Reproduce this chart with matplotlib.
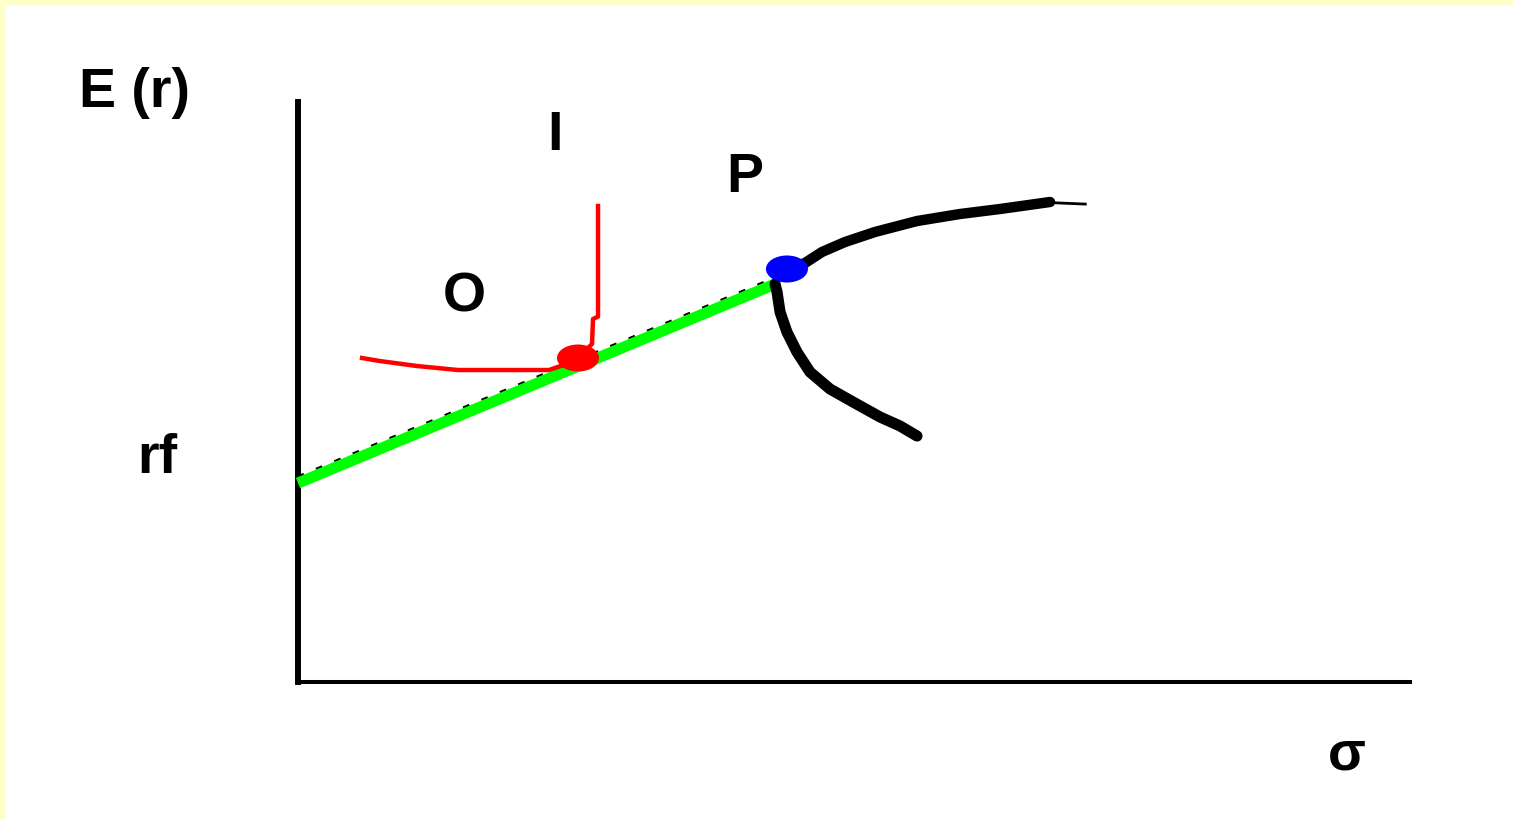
import matplotlib.pyplot as plt
from matplotlib.patches import Ellipse, Rectangle

# risk-free rate and slope of the capital allocation line
rf = 3.43
cal_slope = 0.8
cal_sigma = [0.0, 4.29]

# efficient frontier, upper and lower branches (sigma, E(r))
upper_sigma = [4.397, 4.559, 4.712, 4.919, 5.189, 5.567, 5.953, 6.313, 6.763]
upper_ret = [7.121, 7.224, 7.414, 7.586, 7.759, 7.948, 8.069, 8.155, 8.276]
tail_sigma = [6.70, 7.08]
tail_ret = [8.27, 8.24]
lower_sigma = [4.290, 4.308, 4.335, 4.397, 4.487, 4.604, 4.784, 4.991, 5.234, 5.414, 5.567]
lower_ret = [6.862, 6.724, 6.379, 6.034, 5.690, 5.345, 5.052, 4.828, 4.569, 4.414, 4.241]

# indifference curve of the investor
indiff_sigma = [0.576, 0.737, 1.070, 1.439, 2.257, 2.491, 2.644, 2.653, 2.698, 2.698]
indiff_ret = [5.586, 5.534, 5.448, 5.379, 5.379, 5.534, 5.828, 6.259, 6.300, 8.207]

# optimal complete portfolio and tangency portfolio
opt_point = (2.518, 5.586)
tan_point = (4.397, 7.121)

fig = plt.figure(figsize=(15.13, 8.20), dpi=100)
fig.patch.set_facecolor('#ffffcc')
# white page with a thin yellow margin on top and left
fig.patches.append(Rectangle((6 / 1513, 0), 1, (820 - 7) / 820, transform=fig.transFigure,
                             facecolor='white', edgecolor='none', zorder=-1))

ax = fig.add_axes([298 / 1513, 137 / 820, 1112 / 1513, 580 / 820])
ax.set_facecolor('none')
ax.set_xlim(0, 10)
ax.set_ylim(0, 10)
ax.set_xticks([])
ax.set_yticks([])
ax.spines['top'].set_visible(False)
ax.spines['right'].set_visible(False)
ax.spines['left'].set_linewidth(4.3)
ax.spines['bottom'].set_linewidth(2.9)

# capital allocation line with its dotted black edge
cal_ret = [rf + cal_slope * s for s in cal_sigma]
ax.plot(cal_sigma, [r + 0.09 for r in cal_ret], color='black', lw=3.5,
        linestyle=(0, (1.4, 2.7)), solid_capstyle='butt', zorder=2, clip_on=False)
ax.plot(cal_sigma, cal_ret, color='#00ff00', lw=8, solid_capstyle='butt', zorder=3, clip_on=False)

# frontier
ax.plot(upper_sigma, upper_ret, color='black', lw=7.5, solid_capstyle='round', zorder=4)
ax.plot(tail_sigma, tail_ret, color='black', lw=2, zorder=4)
ax.plot(lower_sigma, lower_ret, color='black', lw=8, solid_capstyle='round', zorder=4)

# indifference curve
ax.plot(indiff_sigma, indiff_ret, color='red', lw=3.2, zorder=4)

ax.add_patch(Ellipse(opt_point, 0.378, 0.466, facecolor='red', edgecolor='none', zorder=5))
ax.add_patch(Ellipse(tan_point, 0.378, 0.466, facecolor='blue', edgecolor='none', zorder=5))

font = dict(family='Liberation Sans', fontweight='bold', fontsize=40, va='baseline', ha='center')
ax.text(-1.466, 9.93, 'E (r)', **font)
ax.text(-1.268, 3.62, 'rf', **font)
ax.text(9.433, -1.50, 'σ', **font)
ax.text(2.311, 9.19, 'I', **font)
ax.text(4.020, 8.47, 'P', **font)
ax.text(1.493, 6.41, 'O', **font)

fig.savefig('out.png', dpi=100, facecolor=fig.get_facecolor())
